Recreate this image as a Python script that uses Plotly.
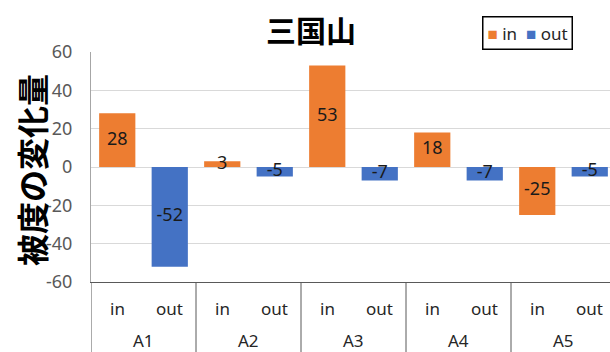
import plotly.graph_objects as go

groups = ["A1", "A2", "A3", "A4", "A5"]
series_names = ["in", "out"]
in_values = [28, 3, 53, 18, -25]
out_values = [-52, -5, -7, -7, -5]
colors = {"in": "#ED7D31", "out": "#4472C4"}
y_ticks = [-60, -40, -20, 0, 20, 40, 60]

W, H = 610, 352
ML, MR, MT, MB = 91, 0, 52, 70

fig = go.Figure()
for name, vals in zip(series_names, [in_values, out_values]):
    fig.add_trace(go.Bar(
        name=name,
        x=[groups, [name] * len(groups)],
        y=vals,
        width=0.69,
        marker=dict(color=colors[name], line=dict(width=0)),
        showlegend=False,
    ))
for name, vals in zip(series_names, [in_values, out_values]):
    fig.add_trace(go.Scatter(
        x=[groups, [name] * len(groups)],
        y=[v / 2 for v in vals],
        mode="text",
        text=[str(v) for v in vals],
        textfont=dict(family="Noto Sans, sans-serif", size=18, color="#1a1a1a"),
        textposition="middle center",
        showlegend=False,
        hoverinfo="skip",
    ))

plot_w = W - ML - MR
plot_h = H - MT - MB
group_px = 105.0
ncat = plot_w / (group_px / 2)
n_s = len(series_names)

legend_html = (f'<span style="color:{colors["in"]}">■</span> in  '
               f'<span style="color:{colors["out"]}">■</span> out')

cat_font = dict(family="Noto Sans, sans-serif", size=17, color="#262626")
annotations = [
    dict(text="<b>被度の変化量</b>", xref="paper", yref="paper",
         x=0, y=0.5, xanchor="center", yanchor="middle",
         xshift=-(ML - 31), yshift=-3, textangle=-90, showarrow=False,
         font=dict(family="Noto Sans CJK JP", size=32, color="#000000")),
    dict(text=legend_html, xref="paper", yref="paper",
         x=(482 - ML) / plot_w, y=(H - MB - 16) / plot_h,
         xanchor="left", yanchor="top", showarrow=False,
         bordercolor="#000000", borderwidth=1.5, borderpad=4, bgcolor="white",
         font=dict(family="Noto Sans, sans-serif", size=17, color="#262626")),
]
shapes = []
# two-level category labels and group dividers on the category scale (by index)
for gi, g in enumerate(groups):
    for si, s in enumerate(series_names):
        annotations.append(dict(text=s, xref="x", yref="paper",
                                x=gi * n_s + si, y=0,
                                xanchor="center", yanchor="middle", yshift=-26,
                                showarrow=False, font=cat_font))
    annotations.append(dict(text=g, xref="x", yref="paper",
                            x=gi * n_s + (n_s - 1) / 2,
                            y=0, xanchor="center", yanchor="middle", yshift=-58,
                            showarrow=False, font=cat_font))
for gi in range(len(groups) + 1):
    shapes.append(dict(type="line", xref="x", yref="paper",
                       x0=gi * n_s - 0.5, x1=gi * n_s - 0.5,
                       y0=0, y1=-(MB + 2) / plot_h,
                       line=dict(color="#595959", width=1), layer="above"))

fig.update_layout(
    width=W, height=H,
    margin=dict(l=ML, r=MR, t=MT, b=MB, pad=0, autoexpand=False),
    paper_bgcolor="white", plot_bgcolor="white",
    barmode="overlay",
    showlegend=False,
    title=dict(text="<b>三国山</b>", x=311 / W, xanchor="center",
               y=1 - 31 / H, yanchor="middle", yref="container", xref="container",
               font=dict(family="Noto Sans CJK JP", size=30, color="#000000")),
    xaxis=dict(type="multicategory", range=[-0.5, -0.5 + ncat], automargin=False,
               showgrid=False, showline=True, linecolor="#595959", linewidth=1,
               ticks="", showdividers=False, showticklabels=False),
    yaxis=dict(range=[-60, 60], tickvals=y_ticks, ticktext=[str(v) for v in y_ticks],
               showgrid=True, gridcolor="#d9d9d9", automargin=False,
               gridwidth=1, zeroline=False, showline=True, linecolor="#a6a6a6",
               linewidth=1, ticks="", ticklabelstandoff=14,
               tickfont=dict(family="Noto Sans, sans-serif", size=18, color="#595959")),
    annotations=annotations,
    shapes=shapes,
)

fig.write_html("out.html")
